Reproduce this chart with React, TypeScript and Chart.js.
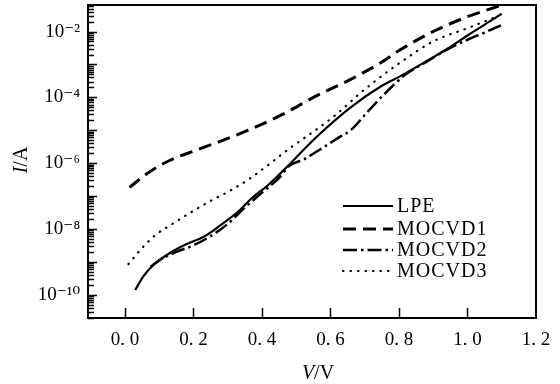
import React, { useEffect, useRef } from 'react';
import { Chart, registerables } from 'chart.js';

Chart.register(...registerables);

// ---- data ----
const SERIES_LABELS = ['LPE', 'MOCVD1', 'MOCVD2', 'MOCVD3'];

const V_LPE = [0.03, 0.053, 0.083, 0.13, 0.18, 0.23, 0.28, 0.33, 0.37, 0.42, 0.46, 0.56, 0.66, 0.75, 0.8, 0.9, 0.94, 1.0, 1.05, 1.1];
const I_LPE = [1.38e-10, 3.55e-10, 7.94e-10, 1.82e-9, 3.47e-9, 5.75e-9, 1.32e-8, 3.31e-8, 8.51e-8, 2.24e-7, 5.62e-7, 6.31e-6, 5.01e-5, 2.24e-4, 4.17e-4, 1.66e-3, 2.95e-3, 7.59e-3, 1.62e-2, 3.47e-2];

const V_MOCVD1 = [0.013, 0.07, 0.13, 0.21, 0.28, 0.36, 0.46, 0.56, 0.66, 0.75, 0.8, 0.9, 1.0, 1.093];
const I_MOCVD1 = [1.82e-7, 5.25e-7, 1.2e-6, 2.51e-6, 4.68e-6, 1.0e-5, 3.02e-5, 1.12e-4, 3.55e-4, 1.18e-3, 2.63e-3, 1.0e-2, 2.82e-2, 6.03e-2];

const V_MOCVD2 = [0.075, 0.1, 0.15, 0.2, 0.25, 0.3, 0.35, 0.4, 0.45, 0.48, 0.52, 0.56, 0.62, 0.66, 0.71, 0.75, 0.79, 0.82, 0.88, 0.94, 1.0, 1.05, 1.1];
const I_MOCVD2 = [7.08e-10, 1.1e-9, 2.0e-9, 3.16e-9, 6.03e-9, 1.41e-8, 4.47e-8, 1.26e-7, 3.55e-7, 8.32e-7, 1.26e-6, 2.24e-6, 5.62e-6, 1.02e-5, 3.8e-5, 1.05e-4, 2.69e-4, 5.01e-4, 1.2e-3, 2.82e-3, 5.62e-3, 9.33e-3, 1.58e-2];

const V_MOCVD3 = [0.01, 0.05, 0.09, 0.14, 0.2, 0.25, 0.31, 0.37, 0.48, 0.61, 0.7, 0.8, 0.9, 1.0, 1.085];
const I_MOCVD3 = [8.51e-10, 2.63e-9, 6.61e-9, 1.45e-8, 3.55e-8, 7.08e-8, 1.51e-7, 3.72e-7, 2.75e-6, 2.63e-5, 1.74e-4, 1.07e-3, 5.01e-3, 1.26e-2, 2.82e-2];

const X_TICKS = [0, 0.2, 0.4, 0.6, 0.8, 1.0, 1.2];
const X_TICK_LABELS = ['0. 0', '0. 2', '0. 4', '0. 6', '0. 8', '1. 0', '1. 2'];
const Y_TICKS = [1e-10, 1e-8, 1e-6, 1e-4, 1e-2];
const Y_TICK_LABELS = ['10⁻¹⁰', '10⁻⁸', '10⁻⁶', '10⁻⁴', '10⁻²'];

const X_TITLE = ['V', '/V'];
const Y_TITLE = ['I', '/A'];

const FONT = '"Liberation Serif", "DejaVu Serif", serif';

function pts(xs: number[], ys: number[]) {
  return xs.map((x, i) => ({ x, y: ys[i] }));
}

const framePlugin = {
  id: 'frame',
  afterDraw(chart: any) {
    const { ctx, chartArea: a, scales } = chart;
    const xs = scales.x;
    const ys = scales.y;
    ctx.save();
    ctx.strokeStyle = '#000';
    ctx.fillStyle = '#000';
    // frame
    ctx.lineWidth = 2;
    ctx.setLineDash([]);
    ctx.strokeRect(a.left, a.top, a.right - a.left, a.bottom - a.top);
    // y ticks (inside, log minor)
    ctx.lineWidth = 1.5;
    ctx.beginPath();
    for (let e = -11; e <= -1; e++) {
      for (let m = 1; m <= 9; m++) {
        const v = m * Math.pow(10, e);
        if (v < ys.min || v > ys.max) continue;
        const py = Math.round(ys.getPixelForValue(v)) + 0.5;
        const len = m === 1 ? 9 : 6;
        ctx.moveTo(a.left, py);
        ctx.lineTo(a.left + len, py);
      }
    }
    ctx.stroke();
    // x ticks (inside)
    ctx.lineWidth = 1.5;
    ctx.beginPath();
    xs.ticks.forEach((t: any) => {
      if (t.value >= xs.max - 1e-9) return;
      const px = Math.round(xs.getPixelForValue(t.value)) + 0.5;
      ctx.moveTo(px, a.bottom);
      ctx.lineTo(px, a.bottom - 10);
    });
    ctx.stroke();

    // axis titles
    ctx.textBaseline = 'middle';
    ctx.textAlign = 'left';
    const drawTitle = (parts: string[], cx: number, cy: number, rot: number) => {
      ctx.save();
      ctx.translate(cx, cy);
      ctx.rotate(rot);
      ctx.font = `italic 20px ${FONT}`;
      const w0 = ctx.measureText(parts[0]).width;
      ctx.font = `20px ${FONT}`;
      const w1 = ctx.measureText(parts[1]).width;
      const start = -(w0 + w1) / 2;
      ctx.font = `italic 20px ${FONT}`;
      ctx.fillText(parts[0], start, 0);
      ctx.font = `20px ${FONT}`;
      ctx.fillText(parts[1], start + w0, 0);
      ctx.restore();
    };
    drawTitle(X_TITLE, 318, 374, 0);
    drawTitle(Y_TITLE, 22, 160, -Math.PI / 2);

    // legend
    const rows = [206, 229, 250, 271];
    const lx0 = 343;
    const lx1 = 393;
    chart.data.datasets.forEach((ds: any, i: number) => {
      const y = rows[i];
      ctx.save();
      ctx.strokeStyle = ds.borderColor;
      ctx.lineWidth = ds.borderWidth;
      ctx.lineCap = ds.borderCapStyle || 'butt';
      ctx.setLineDash(ds.borderDash || []);
      ctx.beginPath();
      ctx.moveTo(lx0, y);
      ctx.lineTo(lx1, y);
      ctx.stroke();
      ctx.restore();
      ctx.save();
      ctx.font = `20px ${FONT}`;
      try { (ctx as any).letterSpacing = '1px'; } catch (e) { /* ignore */ }
      ctx.fillStyle = '#000';
      ctx.textBaseline = 'middle';
      ctx.fillText(ds.label, lx1 + 4, y + 1);
      ctx.restore();
    });
    ctx.restore();
  },
};

export default function App() {
  const ref = useRef<HTMLCanvasElement | null>(null);

  useEffect(() => {
    if (!ref.current) return;
    const chart = new Chart(ref.current, {
      type: 'line',
      data: {
        datasets: [
          {
            label: SERIES_LABELS[0],
            data: pts(V_LPE, I_LPE),
            borderColor: '#000',
            borderWidth: 2.2,
            borderDash: [],
          },
          {
            label: SERIES_LABELS[1],
            data: pts(V_MOCVD1, I_MOCVD1),
            borderColor: '#000',
            borderWidth: 3,
            borderDash: [13, 7],
          },
          {
            label: SERIES_LABELS[2],
            data: pts(V_MOCVD2, I_MOCVD2),
            borderColor: '#000',
            borderWidth: 2.5,
            borderDash: [14, 4, 2.5, 4],
          },
          {
            label: SERIES_LABELS[3],
            data: pts(V_MOCVD3, I_MOCVD3),
            borderColor: '#000',
            borderWidth: 2.2,
            borderDash: [0.5, 7],
            borderCapStyle: 'round',
          },
        ] as any,
      },
      options: {
        animation: false,
        responsive: false,
        maintainAspectRatio: false,
        parsing: true,
        elements: {
          point: { radius: 0, hoverRadius: 0 },
          line: { cubicInterpolationMode: 'monotone', fill: false },
        },
        layout: { padding: { top: 5, right: 24, left: 0, bottom: 0 } },
        plugins: {
          legend: { display: false },
          tooltip: { enabled: false },
        },
        scales: {
          x: {
            type: 'linear',
            min: -0.108,
            max: 1.2,
            afterBuildTicks: (s: any) => {
              s.ticks = X_TICKS.map((v) => ({ value: v }));
            },
            afterFit: (s: any) => {
              s.height = 66;
              s.paddingLeft = 0;
              s.paddingRight = 0;
            },
            ticks: {
              callback: (_v: any, i: number) => X_TICK_LABELS[i],
              font: { family: FONT, size: 19 },
              color: '#000',
              padding: 11,
              autoSkip: false,
              maxRotation: 0,
            },
            grid: { display: false, drawTicks: false },
            border: { display: false },
          },
          y: {
            type: 'logarithmic',
            min: 1.95e-11,
            max: 6.4e-2,
            afterBuildTicks: (s: any) => {
              s.ticks = Y_TICKS.map((v) => ({ value: v }));
            },
            afterFit: (s: any) => {
              s.width = 88;
              s.paddingTop = 0;
              s.paddingBottom = 0;
            },
            ticks: {
              callback: (_v: any, i: number) => Y_TICK_LABELS[i],
              font: { family: FONT, size: 19 },
              color: '#000',
              padding: 8,
              autoSkip: false,
            },
            grid: { display: false, drawTicks: false },
            border: { display: false },
          },
        },
      } as any,
      plugins: [framePlugin],
    });
    return () => chart.destroy();
  }, []);

  return (
    <div style={{ position: 'absolute', left: 0, top: 0, width: 560, height: 384, background: '#fff' }}>
      <canvas ref={ref} width={560} height={384} style={{ display: 'block' }} />
    </div>
  );
}
